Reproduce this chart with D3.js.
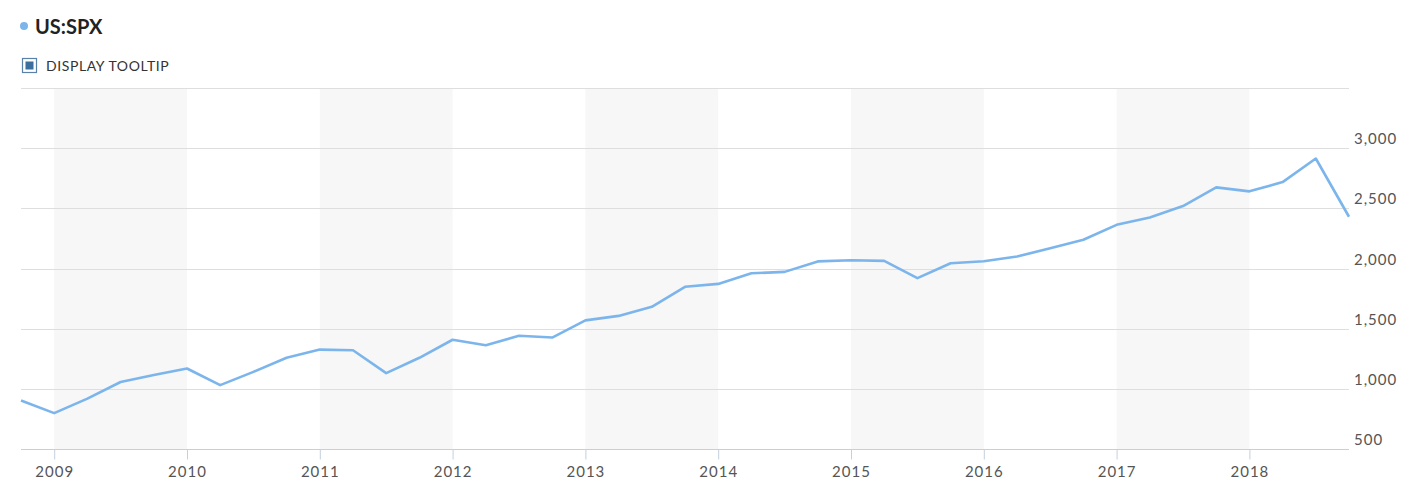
<!DOCTYPE html>
<html>
<head>
<meta charset="utf-8">
<script src="https://cdn.jsdelivr.net/npm/d3@7"></script>
<style>
	body { margin: 0; background: #fff; font-family: Lato, "Open Sans", sans-serif; }
</style>
</head>
<body>
<svg id="chart" width="1420" height="500"></svg>
<script>
const width		= 1420;
const height	= 500;
const margin	= ({top: 88, right: 71, bottom: 51, left: 21});

// quarterly closes, first point at 2008 Q4
const startYear = 2008.75;
const values = [903, 798, 919, 1057, 1115, 1169, 1031, 1141, 1258, 1326, 1321, 1131,
	1258, 1408, 1362, 1441, 1426, 1569, 1606, 1682, 1848, 1872, 1960, 1972,
	2059, 2068, 2063, 1920, 2044, 2060, 2099, 2168, 2239, 2363, 2423, 2519,
	2674, 2641, 2718, 2914, 2430];
const years = [2009, 2010, 2011, 2012, 2013, 2014, 2015, 2016, 2017, 2018];
const bandStarts = [2009, 2011, 2013, 2015, 2017];
const yTicks = [500, 1000, 1500, 2000, 2500, 3000, 3500];

const data = values.map((v, i) => ({t: startYear + i / 4, v: v}));

const x = d3.scaleLinear()
	.domain([startYear, startYear + (values.length - 1) / 4])
	.range([margin.left, width - margin.right]);

const y = d3.scaleLinear()
	.domain([500, 3500])
	.range([height - margin.bottom, margin.top]);

const svg = d3.select('#chart');

// legend
svg.append('circle').attr('cx', 24).attr('cy', 26).attr('r', 4).attr('fill', '#7cb5ec');
svg.append('text').attr('x', 35).attr('y', 34)
	.attr('font-size', 20).attr('font-weight', 'bold').attr('fill', '#222')
	.text('US:SPX');

svg.append('rect').attr('x', 22.5).attr('y', 58.5).attr('width', 14).attr('height', 14)
	.attr('fill', '#fff').attr('stroke', '#5a82a8').attr('stroke-width', 1.2);
svg.append('rect').attr('x', 25.5).attr('y', 61.5).attr('width', 8).attr('height', 8)
	.attr('fill', '#3a6f9e');
svg.append('text').attr('x', 46).attr('y', 71)
	.attr('font-size', 14).attr('fill', '#333')
	.attr('letter-spacing', 0.6)
	.text('DISPLAY TOOLTIP');

// plot bands
svg.append('g').selectAll('rect')
	.data(bandStarts)
	.join('rect')
		.attr('x', d => x(d))
		.attr('y', margin.top)
		.attr('width', d => x(d + 1) - x(d))
		.attr('height', height - margin.bottom - margin.top)
		.attr('fill', '#f7f7f7');

// grid
svg.append('g').selectAll('line')
	.data(yTicks.filter(d => d > 500))
	.join('line')
		.attr('x1', margin.left)
		.attr('x2', width - margin.right)
		.attr('y1', d => Math.round(y(d)) + 0.5)
		.attr('y2', d => Math.round(y(d)) + 0.5)
		.attr('stroke', '#dedede');

// y labels
svg.append('g').selectAll('text')
	.data(yTicks.filter(d => d < 3500))
	.join('text')
		.attr('x', width - margin.right + 5)
		.attr('y', d => y(d) - 4)
		.attr('font-size', 15)
		.attr('fill', '#555')
		.attr('letter-spacing', 1)
		.text(d => d3.format(',')(d));

// x axis
const xAxis = svg.append('g')
	.attr('transform', 'translate(0,' + (Math.round(y(500)) + 0.5) + ')')
	.call(d3.axisBottom(x).tickValues(years).tickFormat(d3.format('d')).tickSize(10).tickPadding(7));
xAxis.select('.domain').attr('stroke', '#c4d0de').attr('d', 'M' + margin.left + ',0H' + (width - margin.right));
xAxis.selectAll('.tick line').attr('stroke', '#c4d0de');
xAxis.selectAll('.tick text')
	.attr('font-family', 'Lato, sans-serif')
	.attr('font-size', 15)
	.attr('fill', '#555')
	.attr('letter-spacing', 1);

// series
const line = d3.line()
	.x(d => x(d.t))
	.y(d => y(d.v));

svg.append('path')
	.datum(data)
	.attr('d', line)
	.attr('fill', 'none')
	.attr('stroke', '#7cb5ec')
	.attr('stroke-width', 2.6)
	.attr('stroke-linejoin', 'round');
</script>
</body>
</html>
